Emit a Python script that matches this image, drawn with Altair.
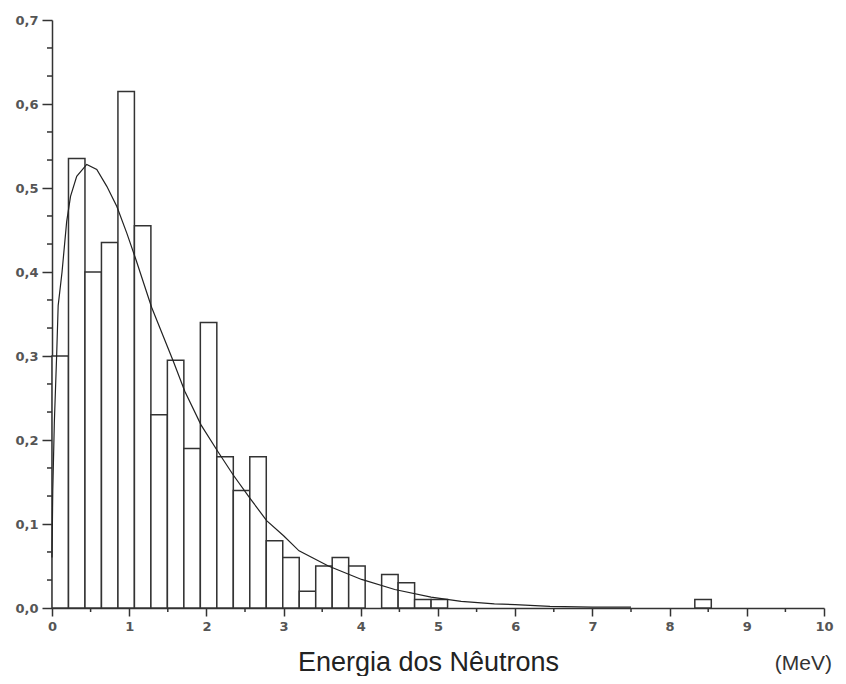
import altair as alt
import pandas as pd

# Histogram: 40 equal bins from 0 to ~8.54 MeV
bin_width = 0.2135
bar_heights = [0.30, 0.535, 0.40, 0.435, 0.615, 0.455, 0.23, 0.295, 0.19, 0.34,
               0.18, 0.14, 0.18, 0.08, 0.06, 0.02, 0.05, 0.06, 0.05, 0.00,
               0.04, 0.03, 0.01, 0.01, 0.0, 0.0, 0.0, 0.0, 0.0, 0.0,
               0.0, 0.0, 0.0, 0.0, 0.0, 0.0, 0.0, 0.0, 0.0, 0.01]

# Fitted curve
curve_e = [0.0, 0.01, 0.03, 0.06, 0.08, 0.13, 0.19, 0.24, 0.32, 0.45, 0.58, 0.71,
           0.84, 0.97, 1.09, 1.29, 1.57, 1.72, 1.93, 2.15, 2.35, 2.57, 2.78, 3.0,
           3.2, 3.58, 4.01, 4.44, 4.91, 5.3, 5.73, 6.0, 6.45, 7.0, 7.5]
curve_y = [0.06, 0.14, 0.22, 0.30, 0.36, 0.40, 0.46, 0.49, 0.514, 0.528, 0.522, 0.502,
           0.478, 0.446, 0.414, 0.358, 0.294, 0.258, 0.218, 0.186, 0.158, 0.130, 0.104, 0.086,
           0.068, 0.050, 0.034, 0.022, 0.013, 0.008, 0.005, 0.004, 0.002, 0.001, 0.001]

y_major = [0.0, 0.1, 0.2, 0.3, 0.4, 0.5, 0.6, 0.7]
y_minor = [0.0333, 0.0667, 0.1333, 0.1667, 0.2333, 0.2667, 0.3333, 0.3667,
           0.4333, 0.4667, 0.5333, 0.5667, 0.6333, 0.6667]
x_major = [0, 1, 2, 3, 4, 5, 6, 7, 8, 9, 10]
x_minor = [0.5, 1.5, 2.5, 3.5, 4.5, 5.5, 6.5, 7.5, 8.5, 9.5]

bars = pd.DataFrame({
    "lo": [round(i * bin_width, 4) for i in range(len(bar_heights))],
    "hi": [round((i + 1) * bin_width, 4) for i in range(len(bar_heights))],
    "h": bar_heights,
})
bars = bars[bars["h"] > 0]
curve = pd.DataFrame({"e": curve_e, "y": curve_y})

AX = "#333"
xscale = alt.Scale(domain=[0, 10], nice=False, zero=False)
yscale = alt.Scale(domain=[0, 0.7], nice=False)

xaxis = alt.Axis(
    values=x_major, format="d", tickSize=8,
    grid=False, domainColor=AX, tickColor=AX, domainWidth=1.5, tickWidth=1.5,
    labelFont="DejaVu Sans", labelFontSize=13, labelFontWeight="bold", labelColor="#555",
    labelPadding=4, labelFlush=False, labelOverlap=False,
    title="Energia dos Nêutrons", titleFont="Liberation Sans", titleFontSize=27,
    titleFontWeight="normal", titleColor="#222", titleX=376, titleY=62,
    titleAnchor="middle", titleAlign="center", titleBaseline="alphabetic",
)
yaxis = alt.Axis(
    values=y_major, tickSize=10,
    labelExpr="replace(format(datum.value, '.1f'), '.', ',')",
    grid=False, domainColor=AX, tickColor=AX, domainWidth=1.5, tickWidth=1.5,
    labelFont="DejaVu Sans", labelFontSize=13, labelFontWeight="bold", labelColor="#555",
    labelPadding=4, labelOverlap=False, labelFlush=False, title=None,
)

bar_layer = alt.Chart(bars).mark_rect(fill="white", stroke="#333", strokeWidth=1.5).encode(
    x=alt.X("lo:Q", scale=xscale, axis=xaxis),
    x2="hi:Q",
    y=alt.Y("h:Q", scale=yscale, axis=yaxis),
    y2=alt.datum(0),
)

line_layer = alt.Chart(curve).mark_line(color="#222", strokeWidth=1.2).encode(
    x=alt.X("e:Q", scale=xscale),
    y=alt.Y("y:Q", scale=yscale),
)

ymin_layer = alt.Chart(pd.DataFrame({"v": y_minor})).mark_rule(color=AX, strokeWidth=1.5).encode(
    y=alt.Y("v:Q", scale=yscale), x=alt.value(-5), x2=alt.value(0),
)
xmin_layer = alt.Chart(pd.DataFrame({"v": x_minor})).mark_rule(color=AX, strokeWidth=1.5).encode(
    x=alt.X("v:Q", scale=xscale), y=alt.value(588), y2=alt.value(592),
)

unit = alt.Chart(pd.DataFrame({"t": ["(MeV)"]})).mark_text(
    font="Liberation Sans", fontSize=21, color="#333", align="right", baseline="alphabetic"
).encode(x=alt.value(780), y=alt.value(650), text="t:N")

chart = alt.layer(bar_layer, line_layer, ymin_layer, xmin_layer, unit).properties(
    width=772, height=588,
    autosize=alt.AutoSizeParams(type="none"),
    padding={"left": 44, "top": 12, "right": 12, "bottom": 68},
    background="white",
).configure_view(stroke=None)

chart.save("out.html", embed_options={"renderer": "svg", "actions": False})
